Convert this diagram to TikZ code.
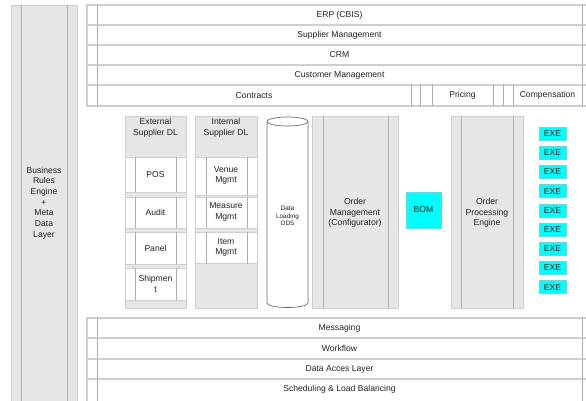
\documentclass[tikz,border=0pt]{standalone}
\usepackage{fontspec}
\setmainfont{Liberation Sans}
\definecolor{bordc}{HTML}{CFCFCF}
\definecolor{linec}{HTML}{ADADAD}
\definecolor{grayf}{HTML}{E6E6E6}
\definecolor{cyanf}{HTML}{00FFFF}
\definecolor{cyanb}{HTML}{66D9D9}
\definecolor{cylc}{HTML}{6E6E6E}
\definecolor{txtc}{HTML}{222222}
\begin{document}
\begin{tikzpicture}[x=1pt,y=-1pt,
  rowbox/.style={draw=bordc,fill=white,line width=1.1pt},
  vline/.style={draw=linec,line width=0.6pt},
  contbox/.style={draw=bordc,fill=grayf,line width=0.8pt},
  cellbox/.style={draw=bordc,fill=white,line width=0.8pt},
  exebox/.style={draw=cyanb,fill=cyanf,line width=0.6pt},
  cylline/.style={draw=cylc,line width=0.7pt,fill=white},
  lbl/.style={inner sep=0pt,text=txtc,font=\fontsize{8.6}{10.7}\selectfont,align=center},
  small/.style={inner sep=0pt,text=txtc,font=\fontsize{6.4}{7.8}\selectfont,align=center}]
\useasboundingbox (0,0) rectangle (586,400);
\clip (0,0) rectangle (586,400);
\fill[white] (0,0) rectangle (586,400);

% left panel
\draw[contbox] (11,5) rectangle (77,406);
\draw[vline] (21.5,5) -- (21.5,406);
\draw[vline] (67,5) -- (67,406);
\node[lbl] (bre) at (44,203) {Business\\Rules\\Engine\\+\\Meta\\Data\\Layer};

% top rows
\foreach \ya/\yb in {5/25,25/45,45/65,65/85,85/106}{
  \draw[rowbox] (87,\ya) rectangle (594,\yb);
  \draw[vline] (97,\ya) -- (97,\yb);
  \draw[vline] (582,\ya) -- (582,\yb);
}
\foreach \xx in {411,420,432,493,503,513}{
  \draw[vline] (\xx,85) -- (\xx,106);
}
\node[lbl] (erp) at (339.5,15) {ERP (CBIS)};
\node[lbl] (supm) at (339.5,35) {Supplier Management};
\node[lbl] (crm) at (339.5,55) {CRM};
\node[lbl] (cusm) at (339.5,75) {Customer Management};
\node[lbl] (contr) at (254,95.5) {Contracts};
\node[lbl] (pric) at (462.5,95.5) {Pricing};
\node[lbl] (comp) at (547.5,95.5) {Compensation};

% bottom rows
\foreach \ya/\yb in {318/338,338/359,359/379,379/406}{
  \draw[rowbox] (87,\ya) rectangle (594,\yb);
  \draw[vline] (97,\ya) -- (97,\yb);
  \draw[vline] (582,\ya) -- (582,\yb);
}
\node[lbl] (msg) at (339.5,328) {Messaging};
\node[lbl] (wf) at (339.5,348.5) {Workflow};
\node[lbl] (dal) at (339.5,369) {Data Acces Layer};
\node[lbl] (sched) at (339.5,389.5) {Scheduling \& Load Balancing};

% External supplier DL
\draw[contbox] (125,116) rectangle (186,308);
\node[lbl,anchor=north] (extdl) at (155.5,118.5) {External\\Supplier DL};
\foreach \ya/\yb in {157/192,197/228,232/264,268/300}{
  \draw[cellbox] (125,\ya) rectangle (186,\yb);
  \draw[vline] (135,\ya) -- (135,\yb);
  \draw[vline] (176,\ya) -- (176,\yb);
}
\node[lbl] (pos) at (155.5,174.5) {POS};
\node[lbl] (audit) at (155.5,212.5) {Audit};
\node[lbl] (panel) at (155.5,248) {Panel};
\node[lbl] (ship) at (155.5,284) {Shipmen\\t};

% Internal supplier DL
\draw[contbox] (195,116) rectangle (257,308);
\node[lbl,anchor=north] (intdl) at (226,118.5) {Internal\\Supplier DL};
\foreach \ya/\yb in {157/195.5,197/228,232/263.5}{
  \draw[cellbox] (195,\ya) rectangle (257,\yb);
  \draw[vline] (206,\ya) -- (206,\yb);
  \draw[vline] (247,\ya) -- (247,\yb);
}
\node[lbl] (venue) at (226,175.5) {Venue\\Mgmt};
\node[lbl] (measure) at (226,212) {Measure\\Mgmt};
\node[lbl] (item) at (226,247.5) {Item\\Mgmt};

% cylinder
\draw[cylline] (267,121.5) -- (267,303) arc[start angle=180,end angle=0,x radius=20.5,y radius=4.5] -- (308,121.5);
\draw[cylline] (287.5,121.5) ellipse[x radius=20.5,y radius=4.5];
\node[small] (ods) at (287.5,216) {Data\\Loading\\ODS};

% Order management
\draw[contbox] (312,116) rectangle (398,308);
\draw[vline] (323,116) -- (323,308);
\draw[vline] (388,116) -- (388,308);
\node[lbl] (ordm) at (355,213) {Order\\Management\\(Configurator)};

% BOM
\draw[exebox] (406,192) rectangle (441,228);
\node[lbl] (bom) at (423.5,210) {BOM};

% Order processing engine
\draw[contbox] (451,116) rectangle (523,308);
\draw[vline] (461,116) -- (461,308);
\draw[vline] (513,116) -- (513,308);
\node[lbl] (ope) at (487,213) {Order\\Processing\\Engine};

% EXE boxes
\foreach \i in {0,...,8}{
  \pgfmathsetmacro{\yc}{133.5+19.2*\i}
  \draw[exebox] (539,\yc-6.5) rectangle (566,\yc+6.5);
  \node[lbl] (exe\i) at (552.5,\yc) {EXE};
}
\end{tikzpicture}
\end{document}
